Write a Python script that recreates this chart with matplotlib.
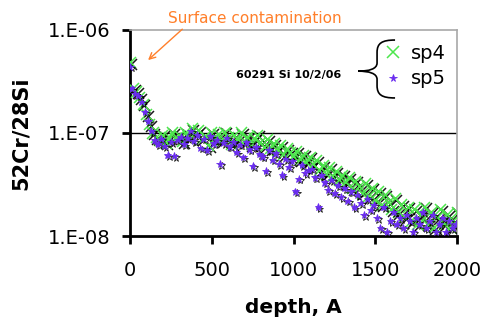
import matplotlib.pyplot as plt
import matplotlib.patheffects as pe
from matplotlib.path import Path
from matplotlib.patches import PathPatch
from matplotlib.ticker import FixedLocator, NullLocator

# sp4 : depth (A) and 52Cr/28Si (in units of 1e-8)
depth4 = [0, 20, 40, 60, 80, 100, 120, 140, 160, 180, 200, 220, 240, 260, 280, 300, 320, 340, 360, 380,
          400, 420, 440, 460, 480, 500, 520, 540, 560, 580, 600, 620, 640, 660, 680, 700, 720, 740, 760, 780,
          800, 820, 840, 860, 880, 900, 920, 940, 960, 980, 1000, 1020, 1040, 1060, 1080, 1100, 1120, 1140,
          1160, 1180, 1200, 1220, 1240, 1260, 1280, 1300, 1320, 1340, 1360, 1380, 1400, 1420, 1440, 1460,
          1480, 1500, 1520, 1540, 1560, 1580, 1600, 1620, 1640, 1660, 1680, 1700, 1720, 1740, 1760, 1780,
          1800, 1820, 1840, 1860, 1880, 1900, 1920, 1940, 1960, 1980, 2000]
sp4 = [48, 27, 25, 22, 19, 15, 12, 10, 9, 8.5, 9.5, 8, 9, 10, 8.8, 9.5, 8.2, 10, 9, 11,
       9.8, 10.5, 8.7, 9.3, 7.5, 10, 8.8, 9.6, 8.4, 10.2, 9, 7.8, 9.4, 8.6, 10, 8.2, 9.1, 7.7, 8.8, 9.5,
       8, 7.3, 8.6, 7.1, 7.9, 6.8, 7.5, 6.2, 7.0, 6.5, 5.9, 6.6, 5.5, 6.1, 5.2, 5.8, 4.9, 5.4,
       4.3, 4.8, 4.0, 4.6, 3.8, 4.2, 3.5, 3.9, 3.3, 3.7, 2.9, 3.4, 3.0, 2.6, 3.2, 2.4,
       2.9, 2.2, 2.7, 2.0, 2.5, 2.1, 1.8, 2.3, 1.7, 2.0, 1.5, 1.9, 1.4, 1.8, 1.3, 1.6,
       1.9, 1.3, 1.7, 1.2, 1.5, 1.8, 1.3, 1.6, 1.2, 1.4, 1.7]

# sp5
depth5 = [0, 10, 30, 50, 70, 90, 110, 130, 150, 170, 190, 210, 230, 250, 270, 290, 310, 330, 350, 370,
          390, 410, 430, 450, 470, 490, 510, 530, 550, 570, 590, 610, 630, 650, 670, 690, 710, 730, 750,
          770, 790, 810, 830, 850, 870, 890, 910, 930, 950, 970, 990, 1010, 1030, 1050, 1070, 1090, 1110,
          1130, 1150, 1170, 1190, 1210, 1230, 1250, 1270, 1290, 1310, 1330, 1350, 1370, 1390, 1410, 1430,
          1450, 1470, 1490, 1510, 1530, 1550, 1570, 1590, 1610, 1630, 1650, 1670, 1690, 1710, 1730, 1750,
          1770, 1790, 1810, 1830, 1850, 1870, 1890, 1910, 1930, 1950, 1970, 1990]
sp5 = [44, 27, 24, 23, 20, 16, 13, 10.5, 8.5, 7.8, 8.8, 7.5, 6.1, 8.2, 6.0, 8.6, 9.2, 7.8, 8.9, 10.5,
       8.4, 9.5, 7.2, 8.8, 6.8, 9.3, 7.9, 8.6, 5.0, 8.0, 9.0, 7.4, 8.2, 6.5, 7.7, 5.8, 8.1, 6.9, 4.8,
       7.3, 6.2, 5.9, 4.3, 6.8, 5.5, 6.3, 5.0, 3.9, 5.6, 4.7, 5.3, 2.7, 3.6, 4.9, 4.1, 4.4, 4.5,
       3.7, 1.9, 3.9, 3.3, 2.8, 3.5, 2.6, 3.1, 2.4, 2.9, 2.2, 2.7, 1.9, 2.5, 2.1, 1.6,
       2.3, 1.8, 2.0, 1.5, 1.2, 1.9, 1.1, 1.4, 1.7, 1.3, 1.5, 1.2, 1.6, 1.4, 1.1, 1.5,
       1.3, 1.7, 1.2, 1.4, 1.6, 1.1, 1.3, 1.5, 1.1, 1.4, 1.2, 1.3]

xticks = [0, 500, 1000, 1500, 2000]
yticks = [1e-8, 1e-7, 1e-6]
ylabels = ['1.E-08', '1.E-07', '1.E-06']

green = '#4de64d'
purple = '#6a2cf0'
orange = '#ff7f2a'

plt.rcParams['font.family'] = ['DejaVu Sans']
fig = plt.figure(figsize=(4.89, 3.22), dpi=100)
ax = fig.add_axes([0.266, 0.267, 0.669, 0.640])

shadow = [pe.SimpleLineShadow(offset=(1.2, -1.2), shadow_color='k', alpha=0.9), pe.Normal()]
l4, = ax.plot(depth4, [v * 1e-8 for v in sp4], linestyle='none', marker='x', ms=8, mew=1.1,
              color=green, path_effects=shadow, label='sp4', zorder=3)
l5, = ax.plot(depth5, [v * 1e-8 for v in sp5], linestyle='none', marker='*', ms=5.5, mew=0.6,
              color=purple, path_effects=shadow, label='sp5', zorder=4)

ax.set_yscale('log')
ax.set_ylim(1e-8, 1e-6)
ax.set_xlim(0, 2000)
ax.yaxis.set_major_locator(FixedLocator(yticks))
ax.yaxis.set_minor_locator(NullLocator())
ax.set_yticklabels(ylabels)
ax.set_xticks(xticks)
ax.axhline(1e-7, color='k', lw=1, zorder=1)

for s in ['left', 'bottom']:
    ax.spines[s].set_linewidth(2)
for s in ['top', 'right']:
    ax.spines[s].set_color('#a8a8a8')
    ax.spines[s].set_linewidth(1.2)
ax.tick_params(axis='both', direction='out', length=6, width=2, labelsize=14, pad=8)
ax.tick_params(axis='x', pad=12)

ax.set_ylabel('52Cr/28Si', fontsize=15, fontweight='bold', labelpad=12)
ax.set_xlabel('depth, A', fontsize=14.5, fontweight='bold', labelpad=13)

leg = ax.legend(handles=[l4, l5], loc='upper right', bbox_to_anchor=(1.0, 0.99), frameon=False,
                fontsize=14, handlelength=0.8, handletextpad=0.5, labelspacing=0.35, borderaxespad=0.2)
for h in leg.legend_handles:
    h.set_path_effects([])

ax.text(0.486, 0.78, '60291 Si 10/2/06', transform=ax.transAxes, fontsize=8, fontweight='bold',
        ha='center', va='center')

# brace
bt, bb, by = 0.951, 0.670, 0.80
verts = [(0.81, bt),
         (0.77, bt), (0.755, bt - 0.015), (0.755, bt - 0.06),
         (0.755, by + 0.04),
         (0.755, by + 0.01), (0.73, by), (0.697, by),
         (0.73, by), (0.755, by - 0.01), (0.755, by - 0.04),
         (0.755, bb + 0.06),
         (0.755, bb + 0.015), (0.77, bb), (0.81, bb)]
codes = [Path.MOVETO,
         Path.CURVE4, Path.CURVE4, Path.CURVE4,
         Path.LINETO,
         Path.CURVE4, Path.CURVE4, Path.CURVE4,
         Path.CURVE4, Path.CURVE4, Path.CURVE4,
         Path.LINETO,
         Path.CURVE4, Path.CURVE4, Path.CURVE4]
ax.add_patch(PathPatch(Path(verts, codes), transform=ax.transAxes, fill=False, lw=1.2,
                       ec='k', clip_on=False))

ax.annotate('Surface contamination', xy=(110, 5.1e-7), xytext=(232, 1.28e-6), color=orange,
            fontsize=11, ha='left', va='center', annotation_clip=False,
            arrowprops=dict(arrowstyle='->', color=orange, lw=1, shrinkA=0, shrinkB=0,
                            relpos=(0.1, 0.0)))

fig.savefig('out.png', dpi=100)
